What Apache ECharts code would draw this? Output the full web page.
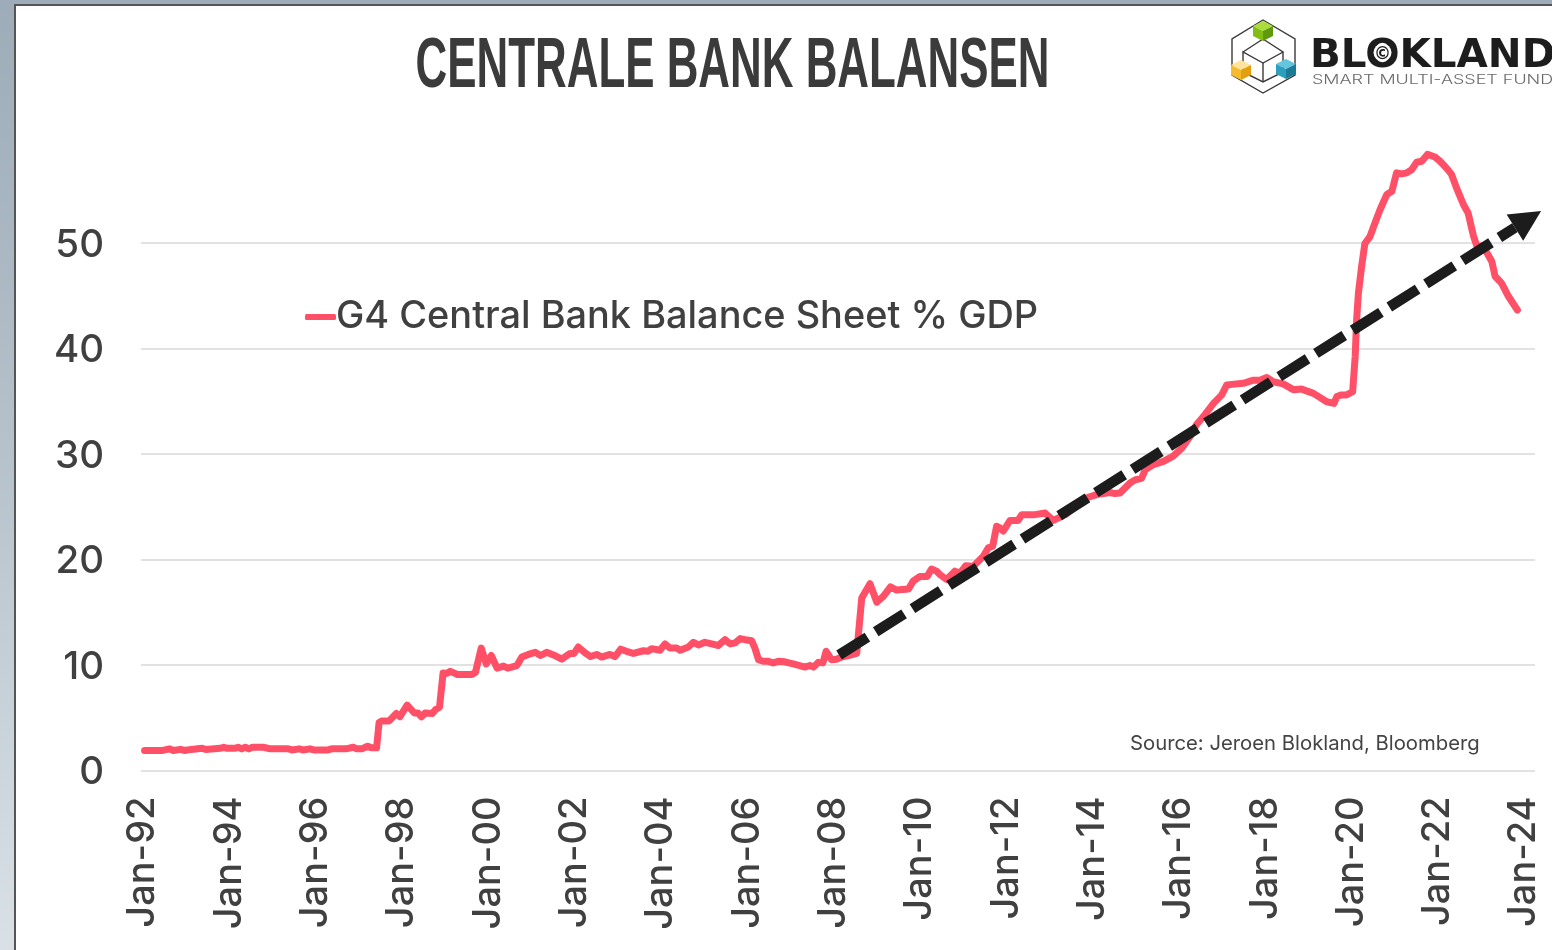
<!DOCTYPE html>
<html><head><meta charset="utf-8">
<style>
html,body{margin:0;padding:0;width:1552px;height:950px;overflow:hidden;background:linear-gradient(to bottom,#9dacb8 0%,#b4c0ca 45%,#d9e1e6 100%);}
#paper{position:absolute;left:14px;top:4px;width:1538px;height:946px;background:#fff;border-left:2px solid #555;border-top:2px solid #555;box-sizing:border-box;}
#c{position:absolute;left:0;top:0;width:1552px;height:950px;}
</style>
<script src="https://cdn.jsdelivr.net/npm/echarts@6/dist/echarts.min.js"></script>
</head><body><div id="paper"></div><div id="c"></div>
<script>
// months since Jan-92 of each vertex
const months=[1,6,8,9,11,12,14,17,18,22,23,24,26,27,28,29,30,31,34,36,41,42,44,45,47,48,52,53,57,59,60,61.4,63,64,65.5,66.2,67,69,71,72,74,76,77,78,79,81,82,83,84,85,86,88,92,93,94.6,96,97.4,99,100.8,102,104.5,105.9,107.7,109.6,111.1,112.8,114.7,117,119.3,120.4,121.6,123.5,125,126.7,128.1,130.4,131.8,133.4,135,136.9,139.7,141,142,144.3,145.7,147.1,149,149.9,152.2,153.6,155,156.8,158.7,160.5,162.4,163.8,165.2,166.6,168,169.8,170.7,171.7,173,174.4,175.8,177.2,179,181.9,184.6,186,187,188.3,189.6,190.5,192,193.4,194.8,196.7,199,200.4,202.7,204.6,206.4,208.4,210.1,213.4,214.7,216.6,218.6,219.8,221.2,222.2,224,226.3,227.7,229.3,231.4,234.2,235.6,236.8,237.9,238.8,239.8,241.6,243.9,244.9,248.6,251.4,252.7,253.7,257,263,265.7,269.4,270.8,272.2,275,276.4,278.2,279.2,281.5,284.3,287,289.4,291.7,293.5,295.4,298.2,300.5,301.9,303.3,306.5,309.3,311.1,313,314.8,317.6,320.4,322.7,326,329.7,331.7,332.5,333.8,335.2,336.9,337.6,338,338.5,339.4,340.3,341.7,343.1,344.5,346.4,347.8,349.1,350.5,351.9,353.3,354.7,356.1,357.7,359.8,361.2,363,364.4,365.8,367.7,369,370.5,371.4,373.2,375.6,376.5,378.3,380.2,382.7];
const balance=[1.9,1.9,2.05,1.9,2,1.9,2,2.1,2,2.1,2.2,2.1,2.1,2.2,2.05,2.2,2.05,2.2,2.2,2.05,2.05,1.95,2.05,1.95,2.05,1.95,1.95,2.05,2.05,2.2,2.05,2.05,2.3,2.15,2.15,4.55,4.7,4.7,5.4,5.1,6.2,5.45,5.45,5.1,5.45,5.4,5.8,6,9.25,9.2,9.4,9.1,9.1,9.3,11.6,10.1,10.9,9.7,9.9,9.7,9.95,10.75,11,11.2,10.9,11.2,10.95,10.55,11.1,11.1,11.7,11.15,10.8,11,10.75,11,10.8,11.5,11.3,11.1,11.35,11.3,11.55,11.4,12,11.6,11.6,11.4,11.7,12.15,11.9,12.15,12,11.85,12.4,12,12.1,12.5,12.4,12.3,11.6,10.5,10.35,10.35,10.2,10.35,10.3,10.05,9.8,9.95,9.8,10.25,10.2,11.3,10.5,10.55,10.75,10.9,11.1,16.35,17.7,15.95,16.5,17.4,17.1,17.2,17.95,18.4,18.4,19.1,18.9,18.55,18.1,18.9,18.7,19.4,19.35,20.3,21.1,21.25,23.15,23,22.7,23.7,23.7,24.25,24.25,24.4,24,23.7,24.25,25.85,26.15,26.35,26.25,26.3,27.25,27.55,27.7,28.5,29,29.3,29.8,30.55,31.65,32.8,33.55,34.8,35.6,36.55,36.6,36.7,37,37,37.25,36.85,36.65,36.1,36.15,35.75,34.95,34.8,35.45,35.6,35.6,35.9,39.25,42.7,45.25,47.8,49.95,50.6,51.9,53.15,54.6,54.9,56.65,56.55,56.65,56.95,57.65,57.75,58.4,58.15,57.75,57.1,56.5,55.2,53.65,52.85,50.65,49.75,49.7,48.25,46.85,46.2,44.95,43.65];
const trendArrow=[194.1,10.95,389.3,53.03];
const seriesName='G4 Central Bank Balance Sheet % GDP';
const titleText='CENTRALE BANK BALANSEN';
const sourceText='Source: Jeroen Blokland, Bloomberg';
const font='Inter';
const labelColor='#404040';

function cube(cx,cy,s,top,left,right){
  const h=s*0.5;
  return [
   {type:'polygon',shape:{points:[[cx,cy-s],[cx+s,cy-h],[cx,cy],[cx-s,cy-h]]},style:{fill:top}},
   {type:'polygon',shape:{points:[[cx-s,cy-h],[cx,cy],[cx,cy+s],[cx-s,cy+h]]},style:{fill:left}},
   {type:'polygon',shape:{points:[[cx+s,cy-h],[cx,cy],[cx,cy+s],[cx+s,cy+h]]},style:{fill:right}}
  ];
}
const stroke={stroke:'#3a3a3a',lineWidth:1.4,fill:'none'};
const logo=[
 {type:'polygon',shape:{points:[[1263,20],[1295,39],[1295,75],[1263,93],[1232,75],[1232,39]]},style:stroke},
 {type:'polyline',shape:{points:[[1243,52],[1263,39],[1283,52],[1263,63],[1243,52],[1243,72],[1263,82],[1283,72],[1283,52]]},style:stroke},
 {type:'line',shape:{x1:1263,y1:63,x2:1263,y2:82},style:stroke},
 ...cube(1263,31,10,'#aadc3c','#82bd14','#5f9a0c'),
 ...cube(1241,70,10,'#ffe29c','#f6bb2c','#e3a00e'),
 ...cube(1286,69,10,'#62c6de','#2d9fbd','#1a7c97'),
 {type:'text',x:1310,y:57,scaleX:1.05,style:{text:'BLOKLAND',font:'bold 38.5px "DejaVu Sans"',fill:'#1d1d1d',textAlign:'left',textVerticalAlign:'middle'}},
 {type:'circle',shape:{cx:1382.5,cy:52.5,r:9},style:{fill:'#fff'}},
 {type:'text',x:1382.5,y:55,style:{text:'©',font:'bold 17px "DejaVu Sans"',fill:'#1d1d1d',textAlign:'center',textVerticalAlign:'middle'}},
 {type:'text',x:1312,y:80,scaleX:1.33,style:{text:'SMART MULTI-ASSET FUND',font:'300 13.5px Inter',fill:'#6a6a6a',textAlign:'left',textVerticalAlign:'middle'}}
];

const option={
 animation:false,
 backgroundColor:'transparent',
 grid:{left:141,top:137.5,width:1394,height:633,containLabel:false},
 graphic:[
  {type:'text',x:732.5,y:68,scaleX:0.627,style:{text:titleText,font:'bold 70px "Liberation Sans"',fill:'#3b3b3b',textAlign:'center',textVerticalAlign:'middle'}},
  {type:'text',x:1130,y:744,style:{text:sourceText,font:'20.3px Inter',fill:'#444',textAlign:'left',textVerticalAlign:'middle'}},
  ...logo
 ],
 legend:{data:[{name:seriesName,icon:'roundRect'}],left:305,top:298,padding:0,itemWidth:31,itemHeight:6,selectedMode:false,
  textStyle:{fontFamily:font,fontSize:37.9,fontWeight:500,color:labelColor,padding:[0,0,0,-5]}},
 xAxis:{type:'value',min:0,max:387.6,interval:24,splitLine:{show:false},axisLine:{show:false},axisTick:{show:false},
  axisLabel:{show:true,rotate:90,margin:26,fontFamily:font,fontSize:38,fontWeight:500,color:labelColor,showMaxLabel:false,showMinLabel:true,hideOverlap:false,
   verticalAlign:'top',lineHeight:4,
   formatter:v=>{const y=1992+v/12;return Number.isInteger(y)?'Jan-'+String(y).slice(2):'';}}},
 yAxis:{type:'value',min:0,max:60,interval:10,axisLine:{show:false},axisTick:{show:false},
  splitLine:{show:true,showMaxLine:false,lineStyle:{color:'#d9d9d9',width:1.5}},
  axisLabel:{margin:37,fontFamily:font,fontSize:38.5,fontWeight:500,color:labelColor,showMaxLabel:false,verticalAlign:'top',lineHeight:4}},
 series:[
  {name:seriesName,type:'line',data:months.map((m,i)=>[m,balance[i]]),showSymbol:false,symbol:'none',smooth:false,z:2,clip:false,
   itemStyle:{color:'#ff5068'},lineStyle:{color:'#ff5068',width:7,cap:'round',join:'round'}},
  {name:'Trend',type:'custom',data:[trendArrow],encode:{x:[0,2],y:[1,3]},z:5,silent:true,clip:false,
   renderItem(params,api){
    const a=api.coord([api.value(0),api.value(1)]),t=api.coord([api.value(2),api.value(3)]);
    const dx=t[0]-a[0],dy=t[1]-a[1],L=Math.hypot(dx,dy),u=[dx/L,dy/L],n=[-u[1],u[0]];
    const b=[t[0]-31*u[0],t[1]-31*u[1]];
    return {type:'group',children:[
     {type:'polyline',shape:{points:[a,b]},style:{stroke:'#1c1c1c',fill:'none',lineWidth:10.5,lineDash:[33.5,9.9]}},
     {type:'polygon',shape:{points:[t,[b[0]+15.5*n[0],b[1]+15.5*n[1]],[b[0]-15.5*n[0],b[1]-15.5*n[1]]]},style:{fill:'#1c1c1c'}}
    ]};
   }}
 ]
};
echarts.init(document.getElementById('c'),null,{renderer:'canvas'}).setOption(option);
</script></body></html>
